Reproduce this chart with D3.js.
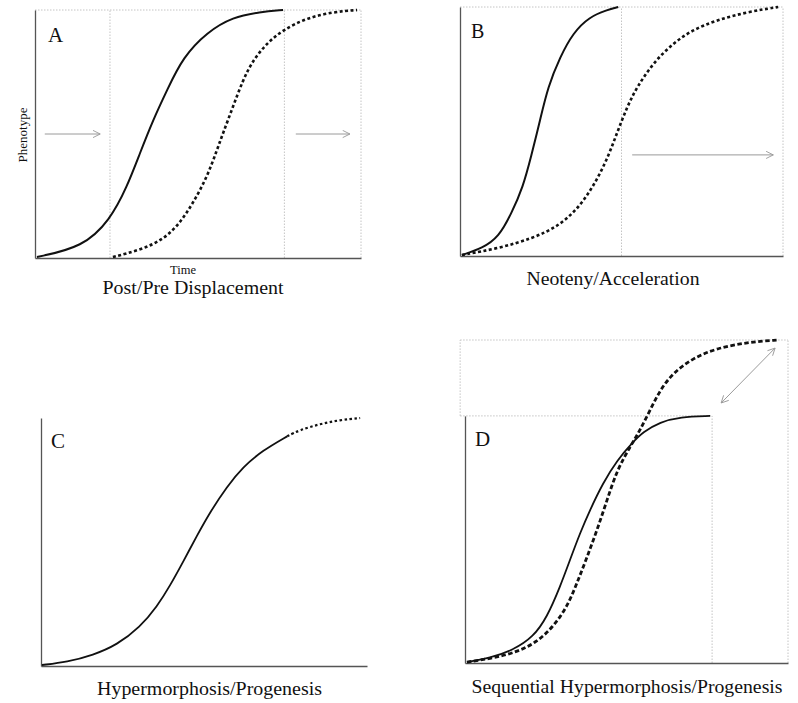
<!DOCTYPE html>
<html>
<head>
<meta charset="utf-8">
<script src="https://cdn.jsdelivr.net/npm/d3@7"></script>
<style>
  html, body { margin: 0; padding: 0; background: #fff; }
  svg { display: block; }
  text { font-family: "Liberation Serif", "DejaVu Serif", serif; fill: #111; }
</style>
</head>
<body>
<svg id="chart" width="798" height="703"></svg>
<script>
// ---------------- DATA (time and phenotype, 0-100 units per panel) ----------------
// Panel A – Post/Pre displacement
const timeA1  = [0.6, 14.7, 23, 28.2, 32.2, 36.2, 40.5, 45.4, 52.8, 60.7, 69, 76.1];
const phenoA1 = [0.4, 4.4, 15.3, 28.6, 42.3, 55.6, 67.7, 81, 91.1, 97.2, 99.2, 100];
const timeA2  = [23.9, 32.2, 39.3, 44.5, 48.5, 52.8, 55.8, 57.7, 60.7, 63.8, 66.9, 71.2, 76.1, 83.4, 91.4, 98.8];
const phenoA2 = [0.4, 3.2, 7.3, 14.1, 22.2, 32.7, 43.5, 50.4, 60.9, 71.8, 79.8, 86.7, 92, 96.8, 99.2, 100];
const guidesA = [23, 76.5, 100];              // dotted vertical guides (time)
const arrowsA = [[3, 20, 50], [80, 96.6, 50]]; // [from time, to time, phenotype]

// Panel B – Neoteny/Acceleration
const timeB1  = [0.6, 7, 12, 16, 19.5, 22, 24.8, 27.2, 31, 35, 40, 45.5, 49];
const phenoB1 = [0.4, 3.2, 7.6, 17.3, 27.7, 39.8, 54.6, 67.9, 80, 89.6, 96, 98.8, 100];
const timeB2  = [0.6, 12.4, 22.6, 30, 36.2, 41.2, 45.5, 48.6, 51.7, 54.8, 59.8, 66, 72, 79.6, 88.9, 98.5];
const phenoB2 = [0.4, 3.2, 7.2, 11.6, 18.5, 27.7, 38.6, 49.4, 59.8, 67.9, 77.5, 85.5, 90.8, 94.8, 98, 100];
const guidesB = [50, 100];
const arrowsB = [[53.3, 97, 40.6]];

// Panel C – Hypermorphosis/Progenesis
const timeC1  = [0.3, 8, 16, 23.3, 30.4, 35.6, 39.6, 43.6, 47.9, 51.8, 57, 62, 68, 75.5];
const phenoC1 = [0.4, 1.6, 4.4, 8.5, 15.7, 24, 32.4, 42, 52.7, 61.9, 72.3, 80.3, 86.9, 92.6];
const timeC2  = [75.5, 79.4, 85.6, 91.7, 97.9];
const phenoC2 = [92.6, 95.2, 97.6, 99.2, 100];

// Panel D – Sequential Hypermorphosis/Progenesis
const timeD1  = [0.6, 7.7, 14.9, 21.1, 25.4, 29.4, 32.5, 35.6, 38.7, 42.7, 47.1, 52, 55.1, 60.4, 66.6, 75.9];
const phenoD1 = [0.3, 1.5, 4, 8, 14.2, 23.5, 31.9, 40.2, 47.4, 55.7, 62.8, 68.4, 71.5, 74.6, 76.2, 76.5];
const timeD2  = [0.6, 8.7, 16.1, 22.3, 27.2, 31.6, 34.7, 37.8, 40.9, 44, 47.1, 51.1, 54.2, 57.3, 60.4, 64.4, 70.6, 78, 88.2, 96.9];
const phenoD2 = [0.3, 1.5, 3.4, 6.5, 11.1, 17.3, 24.8, 32.8, 41.2, 50.5, 59.8, 66.9, 72.1, 78.3, 84.5, 89.8, 94.4, 97.5, 99.4, 100];
const plateauD = 76.5;
const arrowD = [79.3, 80.5, 96, 97.5];

// Text
const panelLetters = ["A", "B", "C", "D"];
const panelTitles = ["Post/Pre Displacement", "Neoteny/Acceleration", "Hypermorphosis/Progenesis", "Sequential Hypermorphosis/Progenesis"];
const axisLabelY = "Phenotype";
const axisLabelX = "Time";

// ---------------- DRAWING ----------------
const svg = d3.select("#chart");
const defs = svg.append("defs");
function marker(id, orient) {
  defs.append("marker").attr("id", id).attr("viewBox", "0 0 10 10")
    .attr("refX", 9).attr("refY", 5).attr("markerWidth", 9).attr("markerHeight", 9)
    .attr("markerUnits", "userSpaceOnUse").attr("orient", orient)
    .append("path").attr("d", "M1,1 L9,5 L1,9").attr("fill", "none")
    .attr("stroke", "#999").attr("stroke-width", 1);
}
marker("arr", "auto");
marker("arrStart", "auto-start-reverse");

const AXIS = "#555", GUIDE = "#c4c4c4", ARROW = "#9a9a9a", INK = "#111";

function makePanel(px0, px1, py0, py1) {
  const g = svg.append("g");
  const x = d3.scaleLinear().domain([0, 100]).range([px0, px1]);
  const y = d3.scaleLinear().domain([0, 100]).range([py0, py1]);
  return {g, x, y};
}
function line(p, ts, ps, opts) {
  const gen = d3.line().x(d => p.x(d[0])).y(d => p.y(d[1])).curve(d3.curveBasis);
  p.g.append("path").datum(d3.zip(ts, ps)).attr("d", gen)
    .attr("fill", "none").attr("stroke", INK)
    .attr("stroke-width", opts.w || 2)
    .attr("stroke-dasharray", opts.dash || null)
    .attr("stroke-linecap", "butt");
}
function seg(p, t0, v0, t1, v1, stroke, dash, w) {
  p.g.append("line").attr("x1", p.x(t0)).attr("y1", p.y(v0)).attr("x2", p.x(t1)).attr("y2", p.y(v1))
    .attr("stroke", stroke).attr("stroke-width", w || 1).attr("stroke-dasharray", dash || null);
}
function axes(p, yTop) {
  const ax = d3.axisBottom(p.x).ticks(0).tickSizeOuter(0);
  p.g.append("g").attr("transform", `translate(0,${p.y(0)})`).call(ax)
    .call(s => s.select(".domain").attr("stroke", AXIS).attr("stroke-width", 1.3));
  const yScaleAxis = d3.scaleLinear().domain([0, yTop]).range([p.y(0), p.y(yTop)]);
  const ay = d3.axisLeft(yScaleAxis).ticks(0).tickSizeOuter(0);
  p.g.append("g").attr("transform", `translate(${p.x(0)},0)`).call(ay)
    .call(s => s.select(".domain").attr("stroke", AXIS).attr("stroke-width", 1.3));
}
function arrow(p, t0, v0, t1, v1, both) {
  const l = p.g.append("line").attr("x1", p.x(t0)).attr("y1", p.y(v0)).attr("x2", p.x(t1)).attr("y2", p.y(v1))
    .attr("stroke", ARROW).attr("stroke-width", 1).attr("marker-end", "url(#arr)");
  if (both) l.attr("marker-start", "url(#arrStart)");
}
function label(txt, x, y, size, len) {
  const t = svg.append("text").attr("x", x).attr("y", y).attr("font-size", size).attr("text-anchor", "middle").text(txt);
  if (len) t.attr("textLength", len).attr("lengthAdjust", "spacingAndGlyphs");
  return t;
}

// Panel A
const pA = makePanel(35, 361, 258, 10);
seg(pA, 0, 100, 100, 100, GUIDE, "1.5,1.5");
guidesA.forEach(t => seg(pA, t, 0, t, 100, GUIDE, "1.5,1.5"));
axes(pA, 100);
arrowsA.forEach(a => arrow(pA, a[0], a[2], a[1], a[2]));
line(pA, timeA1, phenoA1, {w: 2});
line(pA, timeA2, phenoA2, {w: 2.6, dash: "3,2.5"});
svg.append("text").attr("x", 48).attr("y", 42).attr("font-size", 21).text(panelLetters[0]);
svg.append("text").attr("transform", "translate(27,135) rotate(-90)").attr("text-anchor", "middle")
  .attr("font-size", 13).text(axisLabelY);
label(axisLabelX, 183, 274, 12.5);
label(panelTitles[0], 193, 294, 19, 181);

// Panel B
const pB = makePanel(460, 783, 256, 7);
seg(pB, 0, 100, 100, 100, GUIDE, "1.5,1.5");
guidesB.forEach(t => seg(pB, t, 0, t, 100, GUIDE, "1.5,1.5"));
axes(pB, 100);
arrowsB.forEach(a => arrow(pB, a[0], a[2], a[1], a[2]));
line(pB, timeB1, phenoB1, {w: 2});
line(pB, timeB2, phenoB2, {w: 2.6, dash: "3,2.5"});
svg.append("text").attr("x", 471).attr("y", 38).attr("font-size", 20).text(panelLetters[1]);
label(panelTitles[1], 613, 285, 19, 173);

// Panel C
const pC = makePanel(41, 367, 666, 418);
axes(pC, 100);
line(pC, timeC1, phenoC1, {w: 1.8});
line(pC, timeC2, phenoC2, {w: 2.2, dash: "2.5,2.5"});
svg.append("text").attr("x", 51).attr("y", 448).attr("font-size", 21).text(panelLetters[2]);
label(panelTitles[2], 209.5, 695, 19, 225);

// Panel D
const pD = makePanel(465, 788, 663, 340);
seg(pD, -1.5, 100, 100, 100, GUIDE, "1.5,1.5");
seg(pD, -1.5, plateauD, plateauD, plateauD, GUIDE, "1.5,1.5");
seg(pD, -1.5, plateauD, -1.5, 100, GUIDE, "1.5,1.5");
seg(pD, plateauD, 0, plateauD, plateauD, GUIDE, "1.5,1.5");
seg(pD, 100, 0, 100, 100, GUIDE, "1.5,1.5");
axes(pD, plateauD);
arrow(pD, arrowD[0], arrowD[1], arrowD[2], arrowD[3], true);
line(pD, timeD1, phenoD1, {w: 1.8});
line(pD, timeD2, phenoD2, {w: 2.8, dash: "4.5,2.5"});
svg.append("text").attr("x", 475).attr("y", 446).attr("font-size", 21).text(panelLetters[3]);
label(panelTitles[3], 627, 693, 19, 311);
</script>
</body>
</html>
